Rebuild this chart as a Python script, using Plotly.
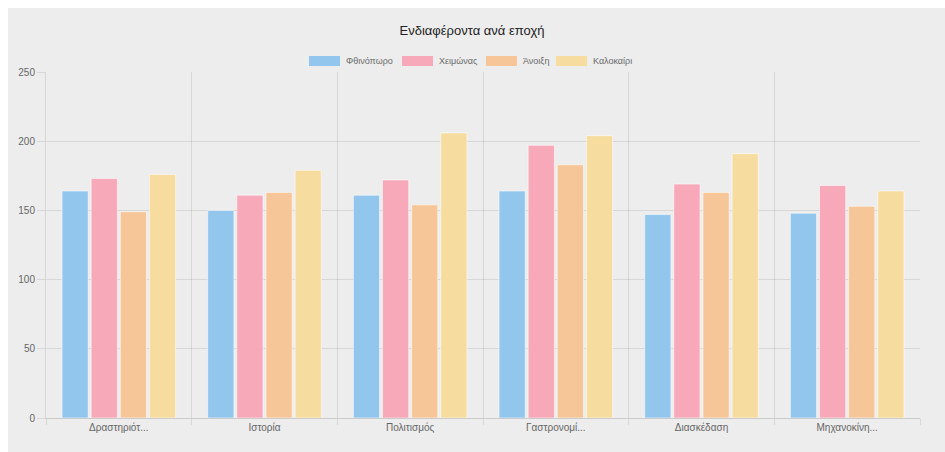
import plotly.graph_objects as go

# Categories (truncated labels as displayed on the axis)
categories = ["Δραστηριότ...", "Ιστορία", "Πολιτισμός", "Γαστρονομί...", "Διασκέδαση", "Μηχανοκίνη..."]

# Series: one per season
series_names = ["Φθινόπωρο", "Χειμώνας", "Άνοιξη", "Καλοκαίρι"]
autumn = [164, 150, 161, 164, 147, 148]
winter = [173, 161, 172, 197, 169, 168]
spring = [149, 163, 154, 183, 163, 153]
summer = [176, 179, 206, 204, 191, 164]
series_values = [autumn, winter, spring, summer]
series_colors = ["#93c6ed", "#f7a8b9", "#f6c699", "#f6dd9f"]

y_ticks = [0, 50, 100, 150, 200, 250]

W, H = 945, 452
L, R, T, B = 46, 25, 72, 34
PW, PH = W - L - R, H - T - B


def px_x(px):
    return (px - L) / PW


def px_y(py):
    return (H - B - py) / PH


fig = go.Figure()
for name, vals, col in zip(series_names, series_values, series_colors):
    fig.add_trace(go.Bar(
        x=categories, y=vals, name=name,
        marker=dict(color=col, line=dict(color="rgba(255,255,255,0.55)", width=1)),
        showlegend=False,
    ))

grid = "rgba(0,0,0,0.09)"
fig.update_layout(
    width=W, height=H,
    margin=dict(l=L, r=R, t=T, b=B),
    paper_bgcolor="#ededed",
    plot_bgcolor="#ededed",
    barmode="group",
    bargap=0.2,
    bargroupgap=0.1,
    font=dict(family="Liberation Sans, Arial, sans-serif", color="#666", size=10),
    title=dict(
        text="Ενδιαφέροντα ανά εποχή",
        x=472 / W, xref="container", xanchor="center",
        y=1 - 30 / H, yref="container", yanchor="middle",
        font=dict(size=13, color="#222"),
    ),
    xaxis=dict(
        type="category",
        tickson="boundaries",
        showgrid=True, gridcolor=grid, gridwidth=1,
        ticks="outside", ticklen=6, tickcolor=grid,
        showline=True, linecolor="rgba(0,0,0,0.14)", linewidth=1,
        tickfont=dict(size=10, color="#666"),
        range=[-0.5, len(categories) - 0.5],
        fixedrange=True,
    ),
    yaxis=dict(
        range=[0, 250], tickvals=y_ticks,
        showgrid=True, gridcolor=grid, gridwidth=1,
        zeroline=False,
        ticks="outside", ticklen=8, tickcolor=grid,
        showline=True, linecolor=grid, linewidth=1,
        tickfont=dict(size=10, color="#666"),
        fixedrange=True,
    ),
)

# white frame around the chart card (top and left edge)
fig.add_shape(type="rect", xref="paper", yref="paper", layer="below",
              x0=px_x(0), x1=px_x(8), y0=px_y(H), y1=px_y(0),
              fillcolor="white", line=dict(width=0))
fig.add_shape(type="rect", xref="paper", yref="paper", layer="below",
              x0=px_x(0), x1=px_x(W), y0=px_y(8), y1=px_y(0),
              fillcolor="white", line=dict(width=0))

# legend: wide colour boxes followed by labels
box_left = [309, 402, 486, 556]
for name, col, bx in zip(series_names, series_colors, box_left):
    fig.add_shape(type="rect", xref="paper", yref="paper",
                  x0=px_x(bx), x1=px_x(bx + 31), y0=px_y(66), y1=px_y(56),
                  fillcolor=col, line=dict(width=0))
    fig.add_annotation(xref="paper", yref="paper",
                       x=px_x(bx + 35), y=px_y(61), xanchor="left", yanchor="middle",
                       text=name, showarrow=False,
                       font=dict(size=9, color="#6a6a6a"))

fig.write_html("out.html")
